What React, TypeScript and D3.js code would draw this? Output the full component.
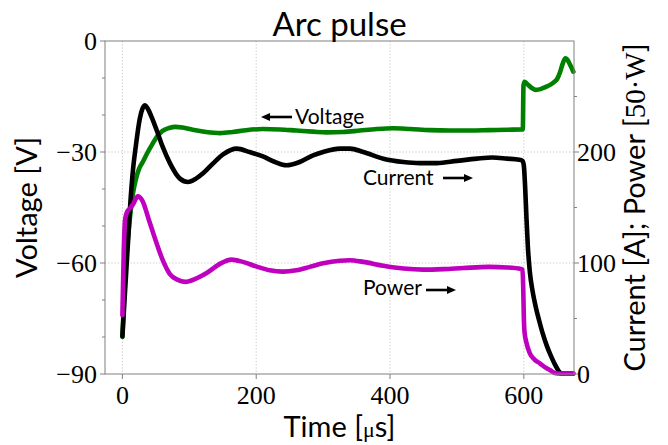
import React from "react";
import * as d3 from "d3";

// Voltage [V] over time [µs]
const voltageTime = [0, 2, 4, 7, 10, 13, 16, 20, 25, 31, 38, 45, 52, 60, 70, 79, 90, 105, 125, 146, 165, 185, 210, 235, 260, 285, 305, 330, 355, 380, 404, 430, 460, 490, 520, 548, 575, 596, 598.5, 599.5, 601, 605, 612, 618, 625, 633, 640, 646, 650, 654, 658, 662, 665, 668, 671, 674];
const voltageValues = [-80, -72, -64, -56, -50, -45, -41, -37.5, -34.5, -32.5, -30, -27.8, -25.8, -24.3, -23.5, -23.2, -23.4, -24, -24.6, -24.9, -24.6, -24.1, -23.8, -23.9, -24.2, -24.5, -24.7, -24.6, -24.2, -23.8, -23.6, -23.8, -24.1, -24.2, -24.2, -24.1, -24.0, -23.9, -23.9, -12, -11.0, -11.6, -12.7, -13.2, -13.0, -12.4, -11.8, -11.0, -10.2, -8.5, -6.2, -4.7, -5.0, -6.0, -7.1, -8.3];

// Current [A] over time [µs]
const currentTime = [0, 3, 6, 9, 12, 16, 20, 26, 30, 34, 38, 44, 51, 60, 71, 86, 98, 110, 121, 136, 151, 171, 190, 210, 228, 245, 265, 285, 300, 325, 340, 360, 390, 420, 444, 470, 500, 530, 553, 575, 593, 598, 600, 602, 604, 606, 609, 613, 618, 623, 628, 634, 640, 647, 653, 658, 674];
const currentValues = [34, 65, 95, 125, 155, 185, 205, 230, 239, 242, 239, 231, 220, 205, 190, 176, 173, 176, 181, 190, 198, 203, 200, 196, 191, 188, 191, 197, 200, 203, 203, 200, 194, 191, 190, 190, 192, 194, 195, 194, 193, 192, 188, 168, 140, 115, 92, 75, 60, 48, 37, 26, 17, 8, 2, 0.5, 0.5];

// Power [50·W] over time [µs]
const powerTime = [0, 2, 4, 7, 11, 16, 23, 30, 40, 51, 60, 71, 82, 94, 110, 126, 145, 163, 180, 200, 220, 240, 260, 280, 300, 325, 340, 360, 390, 420, 450, 480, 510, 548, 575, 596, 598, 599, 600, 601, 604, 609, 616, 624, 632, 639, 648, 655, 674];
const powerValues = [53, 110, 139, 146, 149, 153, 160, 156, 138, 118, 103, 90, 85, 83, 86, 91, 99, 103, 101, 97, 93.5, 92.2, 93.5, 96.5, 99.7, 102, 102.5, 101, 97.5, 95, 94, 94.5, 95.5, 96.5, 96, 94.6, 94, 80, 52, 38, 28, 18.6, 13, 9.6, 6, 3.6, 0.6, 0.3, 0.3];

const xTicks = [0, 200, 400, 600];
const leftTicks = [0, -30, -60, -90];
const leftMinorTicks = [-10, -20, -40, -50, -70, -80];
const rightTicks = [0, 100, 200];
const rightMinorTicks = [50, 150, 250];

const W = 668;
const H = 445;
const plot = { left: 105, right: 574, top: 41, bottom: 374 };

const SANS = "Lato, 'Open Sans', sans-serif";
const SERIF = "'Liberation Serif', 'DejaVu Serif', serif";

const x = d3.scaleLinear().domain([-26, 675]).range([plot.left, plot.right]);
const yL = d3.scaleLinear().domain([-90, 0]).range([plot.bottom, plot.top]);
const yR = d3.scaleLinear().domain([0, 300]).range([plot.bottom, plot.top]);

const zip = (t: number[], v: number[]) => t.map((ti, i) => [ti, v[i]] as [number, number]);

const lineL = d3
  .line<[number, number]>()
  .x((d) => x(d[0]))
  .y((d) => yL(d[1]))
  .curve(d3.curveMonotoneX);
const lineR = d3
  .line<[number, number]>()
  .x((d) => x(d[0]))
  .y((d) => yR(d[1]))
  .curve(d3.curveMonotoneX);

const minus = (v: number) => (v < 0 ? "\u2212" + Math.abs(v) : String(v));

function Arrow({ x1, x2, y }: { x1: number; x2: number; y: number }) {
  // shaft from x1 to the head at x2
  const dir = x2 > x1 ? 1 : -1;
  const headLen = 9;
  const headHalf = 4;
  const base = x2 - dir * headLen;
  return (
    <g>
      <line x1={x1} y1={y} x2={base} y2={y} stroke="#000" strokeWidth={2.6} />
      <path d={`M${x2},${y} L${base},${y - headHalf} L${base},${y + headHalf} Z`} fill="#000" />
    </g>
  );
}

export default function App() {
  const gridColor = "#b8b8b8";
  const spineColor = "#808080";
  return (
    <svg
      width={W}
      height={H}
      style={{ position: "absolute", left: 0, top: 0, background: "#fff" }}
    >
      <rect x={0} y={0} width={W} height={H} fill="#fff" />

      {/* grid */}
      <g stroke={gridColor} strokeWidth={0.8} strokeDasharray="1.2,2">
        {xTicks.map((t) => (
          <line key={"gx" + t} x1={x(t)} x2={x(t)} y1={plot.top} y2={plot.bottom} />
        ))}
        {[-30, -60].map((v) => (
          <line key={"gy" + v} x1={plot.left} x2={plot.right} y1={yL(v)} y2={yL(v)} />
        ))}
      </g>

      {/* series */}
      <g fill="none" strokeWidth={4.6} strokeLinejoin="round" strokeLinecap="round">
        <path d={lineL(zip(voltageTime, voltageValues)) || ""} stroke="#008000" />
        <path d={lineR(zip(currentTime, currentValues)) || ""} stroke="#000000" />
        <path d={lineR(zip(powerTime, powerValues)) || ""} stroke="#bf00bf" />
      </g>

      {/* frame */}
      <rect
        x={plot.left}
        y={plot.top}
        width={plot.right - plot.left}
        height={plot.bottom - plot.top}
        fill="none"
        stroke={spineColor}
        strokeWidth={1}
      />

      {/* ticks */}
      <g stroke={spineColor} strokeWidth={1}>
        {xTicks.map((t) => (
          <line key={"xt" + t} x1={x(t)} x2={x(t)} y1={plot.bottom} y2={plot.bottom + 5} />
        ))}
        {leftTicks.map((v) => (
          <line key={"lt" + v} x1={plot.left - 5} x2={plot.left} y1={yL(v)} y2={yL(v)} />
        ))}
        {leftMinorTicks.map((v) => (
          <line key={"lm" + v} x1={plot.left - 3} x2={plot.left} y1={yL(v)} y2={yL(v)} />
        ))}
        {rightTicks.map((v) => (
          <line key={"rt" + v} x1={plot.right} x2={plot.right + 5} y1={yR(v)} y2={yR(v)} />
        ))}
        {rightMinorTicks.map((v) => (
          <line key={"rm" + v} x1={plot.right} x2={plot.right + 3} y1={yR(v)} y2={yR(v)} />
        ))}
      </g>

      {/* tick labels */}
      <g fontFamily={SERIF} fontSize={26} fill="#000">
        {xTicks.map((t) => (
          <text key={"xl" + t} x={x(t)} y={plot.bottom + 30} textAnchor="middle">
            {t}
          </text>
        ))}
        {leftTicks.map((v) => (
          <text key={"ll" + v} x={plot.left - 8} y={yL(v) + 9} textAnchor="end">
            {minus(v)}
          </text>
        ))}
        {rightTicks.map((v) => (
          <text key={"rl" + v} x={plot.right + 3} y={yR(v) + 9} textAnchor="start">
            {v}
          </text>
        ))}
      </g>

      {/* title and axis labels */}
      <text x={(plot.left + plot.right) / 2} y={36} textAnchor="middle" fontFamily={SANS} fontSize={33}>
        Arc pulse
      </text>
      <text x={(plot.left + plot.right) / 2} y={437} textAnchor="middle" fontFamily={SANS} fontSize={29}>
        Time [<tspan fontFamily={SERIF} fontSize={22}>μ</tspan>s]
      </text>
      <text
        transform={`translate(37,${(plot.top + plot.bottom) / 2}) rotate(-90)`}
        textAnchor="middle"
        fontFamily={SANS}
        fontSize={29}
      >
        Voltage [V]
      </text>
      <text
        transform={`translate(645,${(plot.top + plot.bottom) / 2}) rotate(-90)`}
        textAnchor="middle"
        fontFamily={SANS}
        fontSize={29}
      >
        Current [A]; Power [<tspan fontFamily={SERIF}>50·W</tspan>]
      </text>

      {/* annotations */}
      <g fontFamily={SANS} fontSize={21} fill="#000">
        <Arrow x1={292} x2={261} y={117} />
        <text x={295} y={124}>Voltage</text>
        <text x={363} y={185}>Current</text>
        <Arrow x1={443} x2={473} y={178} />
        <text x={363} y={295}>Power</text>
        <Arrow x1={426} x2={456} y={290} />
      </g>
    </svg>
  );
}
